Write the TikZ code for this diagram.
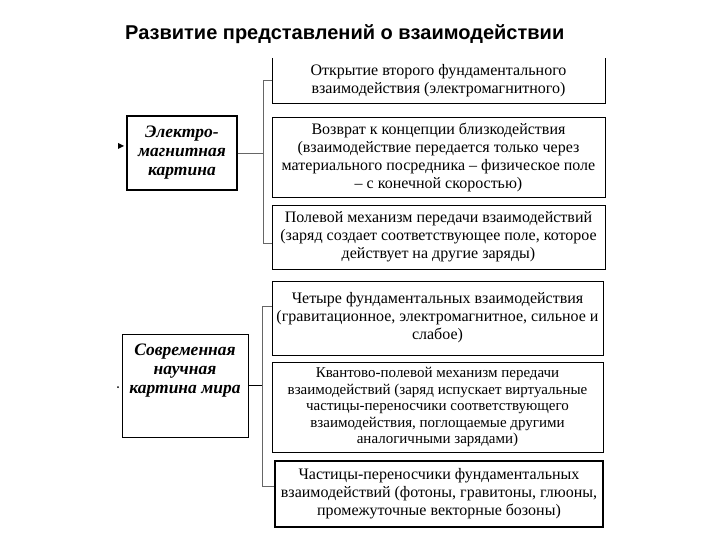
\documentclass[tikz,border=0pt]{standalone}
\usepackage{fontspec}
\setmainfont{Liberation Serif}
\newfontfamily\titlefont{Liberation Sans}
\begin{document}
\begin{tikzpicture}[x=1pt,y=-1pt,
  bx/.style={draw,thick,align=center,inner sep=0pt,font=\fontsize{16}{18}\selectfont},
  lb/.style={draw,very thick,align=center,inner sep=0pt,font=\fontsize{17.5}{19}\selectfont\bfseries\itshape},
  ln/.style={draw=black!60,thick}]
\useasboundingbox (0,0) rectangle (720,540);
\node[font=\titlefont\fontsize{20}{22}\selectfont\bfseries,anchor=west,inner sep=0pt] (title) at (125,34) {Развитие представлений о взаимодействии};
% top group
\draw[thick] (272,58) -- (272,103) -- (605,103) -- (605,58);
\node[align=center,font=\fontsize{16}{18}\selectfont] (t1) at (438.5,81) {Открытие второго фундаментального\\взаимодействия (электромагнитного)};
\node[bx,minimum width=333,minimum height=80] (t2) at (438.5,157) {Возврат к концепции близкодействия\\(взаимодействие передается только через\\материального посредника – физическое поле\\– с конечной скоростью)};
\node[bx,minimum width=333,minimum height=64] (t3) at (438.5,237) {Полевой механизм передачи взаимодействий\\(заряд создает соответствующее поле, которое\\действует на другие заряды)};
\node[lb,minimum width=110,minimum height=74] (l1) at (182,153) {Электро-\\магнитная\\картина};
\coordinate (b1) at (263,153);
\draw[ln] (l1.east) -- (b1);
\draw[ln] (272,80) -| (263,243) -- (t3.west |- 0,243);
\coordinate (arr1) at (118,146);
\fill (arr1) ++(0,-3) -- ++(6,3) -- ++(-6,3) -- cycle;
% bottom group
\node[bx,minimum width=331,minimum height=74] (t4) at (437.5,318) {Четыре фундаментальных взаимодействия\\(гравитационное, электромагнитное, сильное и\\слабое)};
\node[bx,minimum width=331,minimum height=90,font=\fontsize{15}{16.5}\selectfont] (t5) at (437.5,407) {Квантово-полевой механизм передачи\\взаимодействий (заряд испускает виртуальные\\частицы-переносчики соответствующего\\взаимодействия, поглощаемые другими\\аналогичными зарядами)};
\node[bx,very thick,minimum width=328,minimum height=66] (t6) at (439,494) {Частицы-переносчики фундаментальных\\взаимодействий (фотоны, гравитоны, глюоны,\\промежуточные векторные бозоны)};
\node[lb,thick,minimum width=126,minimum height=103] (l2) at (185,385.5) {Современная\\научная\\картина мира\\[14pt]};
\draw[very thick] (l2.east) -- (262,385.5);
\draw[ln] (t4.west |- 0,306) -| (262,486) -- (t6.west |- 0,486);
\fill (118,387) circle (1);
\end{tikzpicture}
\end{document}
